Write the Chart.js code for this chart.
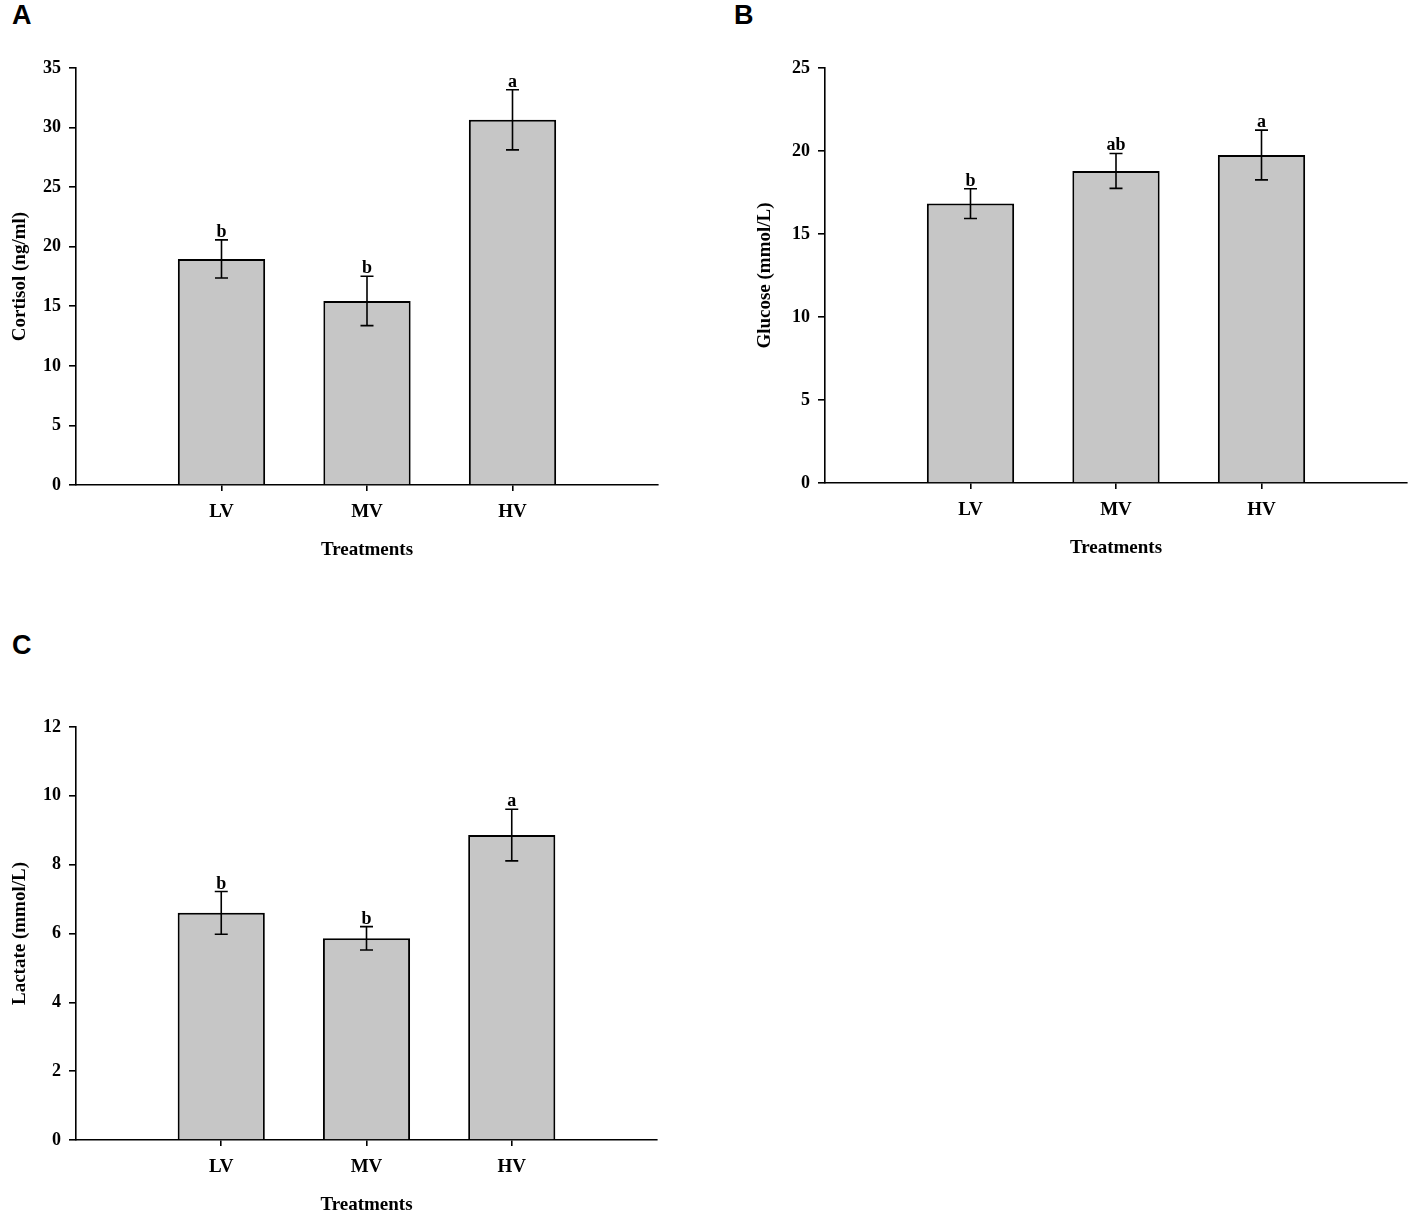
<!DOCTYPE html>
<html>
<head>
<meta charset="utf-8">
<script src="https://cdn.jsdelivr.net/npm/chart.js@4/dist/chart.umd.min.js"></script>
<style>
  html, body { margin: 0; padding: 0; background: #fff; }
  body { width: 1417px; height: 1222px; position: relative; overflow: hidden; }
  .panel { position: absolute; }
  .tag {
    position: absolute;
    font: bold 27px "Liberation Sans", Arial, sans-serif;
    line-height: 27px;
    color: #000;
  }
</style>
</head>
<body>
<div class="tag" style="left:12px; top:2px;">A</div>
<div class="tag" style="left:734px; top:2px;">B</div>
<div class="tag" style="left:12px; top:632px;">C</div>

<div class="panel" style="left:0; top:0; width:700px; height:600px;"><canvas id="chartA"></canvas></div>
<div class="panel" style="left:740px; top:0; width:677px; height:600px;"><canvas id="chartB"></canvas></div>
<div class="panel" style="left:0; top:660px; width:700px; height:562px;"><canvas id="chartC"></canvas></div>

<script>
// treatments on the x axis (blank slots left and right, as in the original plot)
const treatments = ["LV", "MV", "HV"];

// A: cortisol
const cortisolMean = [18.97, 15.45, 30.65];
const cortisolSE = [1.6, 2.07, 2.52];
const cortisolLetters = ["b", "b", "a"];

// B: glucose
const glucoseMean = [16.83, 18.8, 19.76];
const glucoseSE = [0.9, 1.05, 1.5];
const glucoseLetters = ["b", "ab", "a"];

// C: lactate
const lactateMean = [6.6, 5.86, 8.86];
const lactateSE = [0.62, 0.34, 0.75];
const lactateLetters = ["b", "b", "a"];

const serif = "'Liberation Serif', 'Times New Roman', serif";

// error bars + significance letters, drawn through the chart scales
const errorBarPlugin = {
  id: "errorBars",
  afterDatasetsDraw(chart, args, opts) {
    const ctx = chart.ctx;
    const yScale = chart.scales.y;
    const meta = chart.getDatasetMeta(0);
    ctx.save();
    ctx.strokeStyle = "#000";
    ctx.lineWidth = 1.6;
    ctx.fillStyle = "#000";
    ctx.font = "bold 18px " + serif;
    ctx.textAlign = "center";
    ctx.textBaseline = "alphabetic";
    opts.means.forEach((m, i) => {
      const bar = meta.data[i + 1];
      if (!bar) return;
      const x = bar.x;
      const yTop = yScale.getPixelForValue(m + opts.errors[i]);
      const yBot = yScale.getPixelForValue(m - opts.errors[i]);
      const cap = 6.5;
      ctx.beginPath();
      ctx.moveTo(x, yTop);
      ctx.lineTo(x, yBot);
      ctx.moveTo(x - cap, yTop);
      ctx.lineTo(x + cap, yTop);
      ctx.moveTo(x - cap, yBot);
      ctx.lineTo(x + cap, yBot);
      ctx.stroke();
      ctx.fillText(opts.letters[i], x, yTop - 3);
    });
    ctx.restore();
  },
};

function makeChart(id, cfg) {
  const labels = [""].concat(treatments, [""]);
  const values = [null].concat(cfg.means, [null]);
  return new Chart(document.getElementById(id), {
    type: "bar",
    data: {
      labels: labels,
      datasets: [
        {
          data: values,
          backgroundColor: "#c6c6c6",
          borderColor: "#000",
          borderWidth: 2,
          barPercentage: 0.6,
          categoryPercentage: 1,
        },
      ],
    },
    plugins: [errorBarPlugin],
    options: {
      responsive: true,
      maintainAspectRatio: false,
      animation: false,
      layout: {
        padding: { top: cfg.padTop, right: cfg.padRight, bottom: cfg.padBottom, left: 0 },
      },
      plugins: {
        legend: { display: false },
        tooltip: { enabled: false },
        errorBars: { means: cfg.means, errors: cfg.errors, letters: cfg.letters },
      },
      scales: {
        x: {
          offset: false,
          afterFit: (scale) => { scale.height = 76; },
          border: { display: true, color: "#000", width: 1.6 },
          grid: {
            offset: false,
            drawOnChartArea: false,
            tickLength: 6,
            lineWidth: 1.6,
            tickColor: (c) => (c.index === 0 || c.index === 4 ? "rgba(0,0,0,0)" : "#000"),
          },
          ticks: {
            color: "#000",
            padding: 10,
            maxRotation: 0,
            autoSkip: false,
            font: { family: serif, size: 19, weight: "bold" },
          },
          title: {
            display: true,
            text: "Treatments",
            color: "#000",
            padding: 0,
            font: { family: serif, size: 19, weight: "bold" },
          },
        },
        y: {
          min: 0,
          max: cfg.max,
          afterFit: (scale) => { scale.width = cfg.yWidth; },
          border: { display: true, color: "#000", width: 1.6 },
          grid: { drawOnChartArea: false, tickLength: 7, lineWidth: 1.6, color: "#000" },
          ticks: {
            stepSize: cfg.step,
            color: "#000",
            padding: 8,
            font: { family: serif, size: 18, weight: "bold" },
          },
          title: {
            display: true,
            text: cfg.yTitle,
            color: "#000",
            padding: { top: cfg.titlePad, bottom: 0 },
            font: { family: serif, size: 19, weight: "bold" },
          },
        },
      },
    },
  });
}

makeChart("chartA", {
  means: cortisolMean, errors: cortisolSE, letters: cortisolLetters,
  max: 35, step: 5, yTitle: "Cortisol (ng/ml)",
  yWidth: 76, titlePad: 9, padTop: 68, padRight: 42, padBottom: 600 - 485 - 76,
});

makeChart("chartB", {
  means: glucoseMean, errors: glucoseSE, letters: glucoseLetters,
  max: 25, step: 5, yTitle: "Glucose (mmol/L)",
  yWidth: 85, titlePad: 14, padTop: 68, padRight: 677 - 667, padBottom: 600 - 483 - 76,
});

makeChart("chartC", {
  means: lactateMean, errors: lactateSE, letters: lactateLetters,
  max: 12, step: 2, yTitle: "Lactate (mmol/L)",
  yWidth: 76, titlePad: 9, padTop: 67, padRight: 43, padBottom: 562 - 480 - 76,
});
</script>
</body>
</html>
